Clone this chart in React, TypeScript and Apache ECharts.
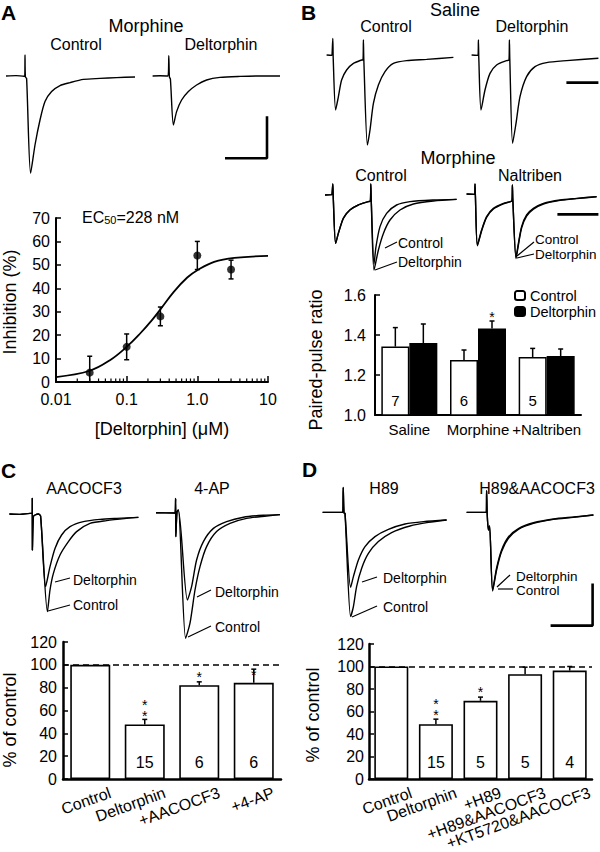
import React, { useEffect, useRef } from 'react';
import * as echarts from 'echarts';

const FONT = "'Liberation Sans', Arial, Helvetica, sans-serif";
const K = '#000';

// ---------- Panel A : dose response ----------
const doseConc = [0.03, 0.1, 0.3, 1, 3];
const doseInhibition = [4, 15, 28, 54, 48];
const doseSem = [7, 5.5, 4, 6, 4];
const fitConc = [0.01, 0.03, 0.058, 0.1, 0.155, 0.228, 0.3, 0.464, 0.72, 1, 1.73, 3.34, 10];
const fitInhibition = [2.1, 4.8, 9.3, 15, 20.7, 26.4, 31, 38.5, 44.6, 47.7, 51.3, 53, 53.8];
const logTickLabels = ['0.01', '0.1', '1.0', '10'];
const logMinorTicks = [0.02, 0.03, 0.04, 0.05, 0.06, 0.07, 0.08, 0.09, 0.2, 0.3, 0.4, 0.5, 0.6, 0.7, 0.8, 0.9, 2, 3, 4, 5, 6, 7, 8, 9];

// ---------- Panel B : paired-pulse ratio ----------
const ppCategories = ['Saline', 'Morphine', '+Naltriben'];
const ppControl = [1.342, 1.275, 1.29];
const ppControlSem = [0.095, 0.05, 0.043];
const ppDeltorphin = [1.36, 1.433, 1.295];
const ppDeltorphinSem = [0.095, 0.037, 0.035];
const ppN = ['7', '6', '5'];
const ppDeltStars = ['', '*', ''];

// ---------- Panel C ----------
const cCategories = ['Control', 'Deltorphin', '+AACOCF3', '+4-AP'];
const cValues = [100, 47.8, 82.2, 84.2];
const cSem = [0, 4.4, 2.9, 12];
const cN = ['', '15', '6', '6'];
const cStars = ['', '**', '*', '*'];

// ---------- Panel D ----------
const dCategories = ['Control', 'Deltorphin', '+H89', '+H89&AACOCF3', '+KT5720&AACOCF3'];
const dValues = [100, 48.7, 69.5, 93.2, 96.4];
const dSem = [0, 4.5, 3.3, 6.2, 3.6];
const dN = ['', '15', '5', '5', '4'];
const dStars = ['', '**', '*', '', ''];

// ---------- Traces (time ms, current pA) ----------
const traceAControl = [[3, 0], [8, 2], [12, -1], [12.4, 0], [12.5, 105], [12.7, -5], [13.3, -12], [15.3, -486], [17.5, -345], [20, -220], [22.5, -128], [25.8, -78], [30, -48], [35, -33], [41.7, -17], [50, -12], [58.3, -8], [67.5, -5]];
const traceADelt = [[76.3, 0], [80, 1], [84, 0], [84.4, 101], [84.7, -5], [85.2, -15], [86.7, -245], [88.3, -178], [90.8, -120], [94.2, -78], [98.3, -45], [103.3, -20], [110, -7], [120, -2], [130, 0], [140, 0]];
const scaleBarA = { x: 133.5, y: -411, ms: 21, pA: 210 };

const salineControl = [[13.3, 10], [16, 8], [16.3, 9], [16.4, 93], [16.6, -5], [17.8, -265], [19.2, -198], [20.8, -115], [23.3, -65], [26.7, -32], [30.8, -15], [31.5, -14], [31.7, 85], [31.9, -10], [33.7, -440], [35, -365], [36.7, -232], [39.2, -140], [42.5, -73], [46.7, -32], [53.3, -18], [63.3, -12], [76.7, -2]];
const salineDelt = [[85.8, 10], [89, 8], [89.2, 85], [89.4, -5], [90.5, -265], [92.5, -165], [95, -82], [98.3, -40], [103.3, -18], [104.5, -15], [104.7, 85], [104.9, -10], [106.3, -432], [108, -332], [110, -198], [113.3, -98], [117.5, -48], [123.3, -28], [133.3, -18], [149.2, -6]];
const scaleBarSaline = { x: 149.2, y: -128, ms: 16 };

const morphControl = [[12.5, 0], [16, 2], [16.3, 2], [16.4, 55], [16.6, -5], [17.8, -242], [19.2, -192], [21.7, -117], [25, -75], [29.2, -50], [34.2, -33], [35.2, -30], [35.4, 55], [35.6, -20], [37, -345], [38, -258], [40, -158], [43.3, -92], [48.3, -50], [55, -33], [66.7, -25], [78.3, -22]];
const morphDelt = [[12.5, 0], [16, 2], [16.3, 2], [16.4, 55], [16.6, -5], [17.8, -242], [19.2, -190], [21.7, -115], [25, -74], [29.2, -49], [34.2, -33], [35.2, -30], [35.4, 55], [35.6, -20], [37, -375], [39.2, -275], [41.7, -192], [45, -125], [50, -75], [56.7, -45], [66.7, -30], [78.3, -22]];
const naltControl = [[83.3, 5], [87.3, 3], [87.5, 55], [87.7, -5], [88.7, -250], [90.8, -175], [93.3, -108], [96.7, -67], [101.7, -42], [105, -33], [106, -30], [106.2, 50], [106.4, -20], [108, -312], [109.2, -242], [110.8, -158], [113.3, -100], [116.7, -67], [121.7, -42], [130, -25], [138.3, -17], [148.3, -8]];
const naltDelt = [[83.3, 5], [87.3, 3], [87.5, 55], [87.7, -5], [88.7, -254], [90.8, -180], [93.3, -112], [96.7, -70], [101.7, -44], [105, -34], [106, -30], [106.2, 50], [106.4, -20], [108, -318], [109.2, -250], [110.8, -165], [113.3, -106], [116.7, -71], [121.7, -45], [130, -27], [138.3, -18], [148.3, -9]];
const scaleBarNalt = { x: 149.2, y: -97, ms: 20.5 };

const aacControl = [[4.7, 0], [10, -2], [15, 3], [16.1, 3], [16.15, 78], [16.2, -180], [16.7, -13], [17.5, -5], [19.2, 0], [20.3, -10], [23.7, -488], [25, -380], [26.7, -297], [30, -205], [34.2, -138], [38.3, -88], [45, -47], [53.3, -33], [63.3, -22], [69.2, -17]];
const aacDelt = [[4.7, 0], [10, -2], [15, 3], [16.1, 3], [16.15, 78], [16.2, -180], [16.7, -13], [17.5, -5], [19.2, 0], [20.3, -10], [22.8, -363], [25, -263], [27.5, -172], [30.8, -105], [35, -63], [41.7, -38], [50, -27], [58.3, -22], [69.2, -17]];
const apControl = [[78, 6], [87.5, 5], [87.8, 78], [87.9, -113], [88.5, 10], [89.2, 20], [92.8, -621], [95, -546], [97.5, -380], [100, -263], [103.3, -163], [108.3, -88], [115, -47], [123.3, -22], [133.3, -10], [140, -3]];
const apDelt = [[78, 6], [87.5, 5], [87.8, 78], [87.9, -113], [88.5, 10], [89.2, 20], [93.7, -430], [95.8, -363], [98.3, -230], [101.7, -138], [106.7, -72], [113.3, -38], [121.7, -16], [131.7, -6], [140, -3]];
const h89Control = [[161.3, 8], [170.8, 8], [171.4, 8], [171.6, 133], [172, 5], [172.5, 3], [175.3, -513], [176.7, -463], [178.3, -363], [180.8, -272], [184.2, -197], [189.2, -138], [195.8, -93], [205, -60], [214.2, -42], [223.3, -30]];
const h89Delt = [[161.3, 8], [170.8, 8], [171.4, 8], [171.6, 133], [172, 5], [172.5, 3], [175.3, -367], [176.7, -313], [179.2, -230], [182.5, -163], [187.5, -113], [194.2, -77], [202.5, -50], [211.7, -38], [223.3, -30]];
const h89aacControl = [[233.3, 8], [242.5, 8], [243.2, 10], [243.3, 116], [243.6, 0], [244.2, -80], [244.8, -60], [246.3, -385], [248.3, -280], [250.8, -188], [254.2, -122], [259.2, -77], [266.7, -47], [276.7, -27], [286.7, -17], [296.7, -5]];
const h89aacDelt = [[233.3, 8], [242.5, 8], [243.2, 10], [243.3, 116], [243.6, 0], [244.2, -80], [244.8, -60], [246.3, -380], [248.3, -270], [250.8, -180], [254.2, -115], [259.2, -73], [266.7, -44], [276.7, -25], [286.7, -15], [296.7, -5]];
const scaleBarD = { x: 296.3, y: -558, ms: 21, pA: 210 };

// ---------- helpers ----------
const txt = (text: string, x: number, y: number, size: number, opts: any = {}) => ({
  type: 'text',
  x,
  y,
  rotation: opts.rotation || 0,
  silent: true,
  style: {
    text,
    fill: K,
    fontSize: size,
    fontFamily: FONT,
    fontWeight: opts.bold ? 'bold' : 'normal',
    align: opts.align || 'center',
    textAlign: opts.align || 'center',
    verticalAlign: 'middle',
    textVerticalAlign: 'middle',
  },
});
const seg = (x1: number, y1: number, x2: number, y2: number) => ({
  type: 'line',
  silent: true,
  shape: { x1, y1, x2, y2 },
  style: { stroke: K, lineWidth: 1.2 },
});

const traceSeries = (data: number[][], idx: number) => ({
  type: 'line',
  xAxisIndex: idx,
  yAxisIndex: idx,
  data,
  showSymbol: false,
  symbol: 'none',
  smooth: 0.25,
  silent: true,
  lineStyle: { color: K, width: 1.4 },
});

const scaleSeries = (bar: any, idx: number) => ({
  type: 'line',
  xAxisIndex: idx,
  yAxisIndex: idx,
  showSymbol: false,
  symbol: 'none',
  silent: true,
  lineStyle: { color: K, width: 2.6 },
  data: bar.pA
    ? [[bar.x - bar.ms, bar.y], [bar.x, bar.y], [bar.x, bar.y + bar.pA]]
    : [[bar.x - bar.ms, bar.y], [bar.x, bar.y]],
});

const STAR_STEP = 11.5;
const errorSeries = (values: number[], sems: number[], stars: string[], idx: number, offset: number, starGap: number) => ({
  type: 'custom',
  xAxisIndex: idx,
  yAxisIndex: idx,
  silent: true,
  z: 5,
  data: values.map((v, i) => [i, v, sems[i]]),
  renderItem: (params: any, api: any) => {
    const i = api.value(0);
    const v = api.value(1);
    const e = api.value(2);
    const base = api.coord([i, v]);
    const top = api.coord([i, v + e]);
    const x = base[0] + offset;
    const children: any[] = [];
    if (e > 0) {
      children.push({ type: 'line', shape: { x1: x, y1: base[1], x2: x, y2: top[1] }, style: { stroke: K, lineWidth: 1.5 } });
      children.push({ type: 'line', shape: { x1: x - 2.5, y1: top[1], x2: x + 2.5, y2: top[1] }, style: { stroke: K, lineWidth: 1.5 } });
    }
    const s = stars[params.dataIndex] || '';
    if (s.length) {
      children.push({
        type: 'text',
        x,
        y: base[1] - starGap - ((s.length - 1) * STAR_STEP) / 2 + 4,
        style: {
          text: s.split('').join('\n'),
          fill: K,
          fontSize: 14,
          lineHeight: STAR_STEP,
          fontFamily: FONT,
          align: 'center',
          verticalAlign: 'middle',
        },
      });
    }
    return { type: 'group', children };
  },
});

const nLabel = (arr: string[], size = 15, dist = 8) => ({
  show: true,
  position: 'insideBottom',
  distance: dist,
  formatter: (p: any) => arr[p.dataIndex],
  fontSize: size,
  fontFamily: FONT,
  color: K,
});

const rotatedCategoryLabels = (cats: string[], idx: number) => ({
  type: 'scatter',
  xAxisIndex: idx,
  yAxisIndex: idx,
  symbol: 'circle',
  symbolSize: 0,
  silent: true,
  clip: false,
  itemStyle: { color: K, opacity: 1 },
  data: cats.map((c) => ({ name: c, value: [c, 0] })),
  label: {
    show: true,
    formatter: '{b}',
    position: [20, 13],
    align: 'right',
    verticalAlign: 'middle',
    rotate: 20,
    fontSize: 16,
    fontFamily: FONT,
    color: K,
    opacity: 1,
    textBorderWidth: 0,
  },
});

const axisLine = (w = 2) => ({ show: true, onZero: false, lineStyle: { color: K, width: w } });
const tickIn = (len = 5) => ({ show: true, inside: true, length: len, lineStyle: { color: K, width: 1.5 } });
const lab = (margin: number, extra: any = {}) => ({ color: K, fontSize: 16, fontFamily: FONT, margin, ...extra });

const hiddenX = (idx: number, max: number) => ({ type: 'value', gridIndex: idx, min: 0, max, show: false });
const hiddenY = (idx: number, min: number, max: number) => ({ type: 'value', gridIndex: idx, min, max, show: false });

const gridBase = { containLabel: false, outerBoundsMode: 'none' };

const option: any = {
  animation: false,
  backgroundColor: '#fff',
  textStyle: { fontFamily: FONT, color: K },
  grid: [
    { ...gridBase, left: 56, top: 218, width: 212, height: 164 }, // 0 A dose
    { ...gridBase, left: 375, top: 295, width: 206, height: 120 }, // 1 B bars
    { ...gridBase, left: 63, top: 642, width: 218, height: 137 }, // 2 C bars
    { ...gridBase, left: 369, top: 644, width: 223, height: 135 }, // 3 D bars
    { ...gridBase, left: 0, top: 45, width: 300, height: 135 }, // 4 A traces
    { ...gridBase, left: 300, top: 30, width: 300, height: 130 }, // 5 B saline
    { ...gridBase, left: 300, top: 180, width: 300, height: 100 }, // 6 B morphine
    { ...gridBase, left: 0, top: 480, width: 600, height: 170 }, // 7 C/D traces
  ],
  xAxis: [
    {
      type: 'log', logBase: 10, gridIndex: 0, min: 0.01, max: 10,
      axisLine: axisLine(2), axisTick: tickIn(6), splitLine: { show: false },
      axisLabel: lab(9, { formatter: (v: number) => logTickLabels[Math.round(Math.log10(v)) + 2] }),
      name: '[Deltorphin] (\u03bcM)', nameLocation: 'middle', nameGap: 38,
      nameTextStyle: { color: K, fontSize: 18, fontFamily: FONT },
    },
    { type: 'category', gridIndex: 1, data: ppCategories, axisLine: axisLine(2), axisTick: { show: false }, axisLabel: lab(7, { interval: 0, hideOverlap: false, fontSize: 15 }) },
    { type: 'category', gridIndex: 2, data: cCategories, axisLine: axisLine(2.5), axisTick: { show: false }, axisLabel: { show: false } },
    { type: 'category', gridIndex: 3, data: dCategories, axisLine: axisLine(2.5), axisTick: { show: false }, axisLabel: { show: false } },
    hiddenX(4, 150),
    hiddenX(5, 150),
    hiddenX(6, 150),
    hiddenX(7, 300),
  ],
  yAxis: [
    { type: 'value', gridIndex: 0, min: 0, max: 70, interval: 10, axisLine: axisLine(2), axisTick: tickIn(5), splitLine: { show: false }, axisLabel: lab(6) },
    { type: 'value', gridIndex: 1, min: 1.0, max: 1.6, interval: 0.2, axisLine: axisLine(2), axisTick: tickIn(5), splitLine: { show: false }, axisLabel: lab(9, { formatter: (v: number) => v.toFixed(1) }) },
    { type: 'value', gridIndex: 2, min: 0, max: 120, interval: 20, axisLine: axisLine(2.5), axisTick: tickIn(5), splitLine: { show: false }, axisLabel: lab(6) },
    { type: 'value', gridIndex: 3, min: 0, max: 120, interval: 20, axisLine: axisLine(2.5), axisTick: tickIn(5), splitLine: { show: false }, axisLabel: lab(5) },
    hiddenY(4, -520, 155),
    hiddenY(5, -515, 135),
    hiddenY(6, -425, 75),
    hiddenY(7, -680, 170),
  ],
  legend: {
    data: ['Control', 'Deltorphin'],
    left: 514,
    top: 288,
    orient: 'vertical',
    itemWidth: 10,
    itemHeight: 9,
    itemGap: 1,
    padding: 0,
    selectedMode: false,
    textStyle: { color: K, fontSize: 14.5, lineHeight: 14, fontFamily: FONT },
  },
  series: [
    // A dose-response
    {
      type: 'line', xAxisIndex: 0, yAxisIndex: 0, smooth: 0.4, showSymbol: false, symbol: 'none', silent: true,
      lineStyle: { color: K, width: 1.8 },
      data: fitConc.map((c, i) => [c, fitInhibition[i]]),
    },
    {
      type: 'custom', xAxisIndex: 0, yAxisIndex: 0, silent: true, z: 4,
      data: doseConc.map((c, i) => [c, doseInhibition[i], doseSem[i]]),
      renderItem: (_p: any, api: any) => {
        const x = api.value(0), y = api.value(1), e = api.value(2);
        const t = api.coord([x, y + e]);
        const b = api.coord([x, Math.max(0, y - e)]);
        return {
          type: 'group',
          children: [
            { type: 'line', shape: { x1: t[0], y1: t[1], x2: b[0], y2: b[1] }, style: { stroke: K, lineWidth: 1.5 } },
            { type: 'line', shape: { x1: t[0] - 2.5, y1: t[1], x2: t[0] + 2.5, y2: t[1] }, style: { stroke: K, lineWidth: 1.5 } },
            { type: 'line', shape: { x1: b[0] - 2.5, y1: b[1], x2: b[0] + 2.5, y2: b[1] }, style: { stroke: K, lineWidth: 1.5 } },
          ],
        };
      },
    },
    {
      type: 'scatter', xAxisIndex: 0, yAxisIndex: 0, symbolSize: 8, silent: true, z: 6,
      itemStyle: { color: K },
      data: doseConc.map((c, i) => [c, doseInhibition[i]]),
    },
    {
      type: 'custom', xAxisIndex: 0, yAxisIndex: 0, silent: true,
      data: logMinorTicks.map((v) => [v, 0]),
      renderItem: (_p: any, api: any) => {
        const p = api.coord([api.value(0), 0]);
        return { type: 'line', shape: { x1: p[0], y1: p[1], x2: p[0], y2: p[1] - 3.5 }, style: { stroke: K, lineWidth: 1.2 } };
      },
    },
    // B bars
    {
      name: 'Control', type: 'bar', xAxisIndex: 1, yAxisIndex: 1, data: ppControl, barWidth: 28, barGap: '0%',
      itemStyle: { color: '#fff', borderColor: K, borderWidth: 1.5 }, label: nLabel(ppN, 15, 8),
    },
    {
      name: 'Deltorphin', type: 'bar', xAxisIndex: 1, yAxisIndex: 1, data: ppDeltorphin, barWidth: 28, barGap: '0%',
      itemStyle: { color: K, borderColor: K, borderWidth: 1.5 },
    },
    errorSeries(ppControl, ppControlSem, ['', '', ''], 1, -14, 15),
    errorSeries(ppDeltorphin, ppDeltorphinSem, ppDeltStars, 1, 14, 15),
    // C bars
    {
      type: 'bar', xAxisIndex: 2, yAxisIndex: 2, data: cValues, barWidth: 40,
      itemStyle: { color: '#fff', borderColor: K, borderWidth: 1.6 }, label: nLabel(cN, 16, 9),
      markLine: { silent: true, symbol: 'none', label: { show: false }, lineStyle: { color: K, type: [6, 4], width: 1.6 }, data: [{ yAxis: 100 }] },
    },
    errorSeries(cValues, cSem, cStars, 2, 0, 12),
    rotatedCategoryLabels(cCategories, 2),
    // D bars
    {
      type: 'bar', xAxisIndex: 3, yAxisIndex: 3, data: dValues, barWidth: 34,
      itemStyle: { color: '#fff', borderColor: K, borderWidth: 1.6 }, label: nLabel(dN, 16, 9),
      markLine: { silent: true, symbol: 'none', label: { show: false }, lineStyle: { color: K, type: [6, 4], width: 1.6 }, data: [{ yAxis: 100 }] },
    },
    errorSeries(dValues, dSem, dStars, 3, 0, 13),
    rotatedCategoryLabels(dCategories, 3),
    // traces
    traceSeries(traceAControl, 4),
    traceSeries(traceADelt, 4),
    scaleSeries(scaleBarA, 4),
    traceSeries(salineControl, 5),
    traceSeries(salineDelt, 5),
    scaleSeries(scaleBarSaline, 5),
    traceSeries(morphControl, 6),
    traceSeries(morphDelt, 6),
    traceSeries(naltControl, 6),
    traceSeries(naltDelt, 6),
    scaleSeries(scaleBarNalt, 6),
    traceSeries(aacControl, 7),
    traceSeries(aacDelt, 7),
    traceSeries(apControl, 7),
    traceSeries(apDelt, 7),
    traceSeries(h89Control, 7),
    traceSeries(h89Delt, 7),
    traceSeries(h89aacControl, 7),
    traceSeries(h89aacDelt, 7),
    scaleSeries(scaleBarD, 7),
  ],
  graphic: [
    // Panel A
    txt('A', 1, 12, 21, { bold: true, align: 'left' }),
    txt('Morphine', 146, 26, 18),
    txt('Control', 76, 44, 16),
    txt('Deltorphin', 221, 44, 16),
    {
      type: 'text', x: 82, y: 217, silent: true,
      style: {
        text: '{a|EC}{b|50}{a|=228 nM}', fill: K, fontFamily: FONT, fontSize: 16, align: 'left', verticalAlign: 'middle',
        rich: { a: { fontSize: 16, fontFamily: FONT, fill: K, lineHeight: 18 }, b: { fontSize: 11, fontFamily: FONT, fill: K, lineHeight: 18, padding: [6, 0, 0, 0] } },
      },
    },
    txt('Inhibition (%)', 10, 302, 18, { rotation: Math.PI / 2 }),
    // Panel B
    txt('B', 301, 12, 21, { bold: true, align: 'left' }),
    txt('Saline', 455, 10, 18),
    txt('Control', 386, 26, 16),
    txt('Deltorphin', 532, 26, 16),
    txt('Morphine', 458, 158, 18),
    txt('Control', 381, 175, 16),
    txt('Naltriben', 530, 175, 16),
    txt('Control', 398, 243, 14, { align: 'left' }),
    txt('Deltorphin', 398, 262, 14, { align: 'left' }),
    seg(385, 248, 397, 242),
    seg(375, 270, 397, 262),
    txt('Control', 535, 239, 13.5, { align: 'left' }),
    txt('Deltorphin', 535, 254, 13.5, { align: 'left' }),
    seg(517, 256, 534, 242),
    seg(517, 258, 534, 254),
    txt('Paired-pulse ratio', 316, 360, 18, { rotation: Math.PI / 2 }),
    // Panel C
    txt('C', 1, 470, 21, { bold: true, align: 'left' }),
    txt('AACOCF3', 84, 488, 16),
    txt('4-AP', 212, 488, 16),
    txt('Deltorphin', 73, 580, 14, { align: 'left' }),
    txt('Control', 73, 605, 14, { align: 'left' }),
    seg(55, 582, 70, 578),
    seg(48, 611, 70, 605),
    txt('Deltorphin', 215, 592, 14, { align: 'left' }),
    txt('Control', 215, 627, 14, { align: 'left' }),
    seg(197, 597, 211, 590),
    seg(188, 637, 211, 626),
    txt('% of control', 10, 720, 18, { rotation: Math.PI / 2 }),
    // Panel D
    txt('D', 302, 469, 21, { bold: true, align: 'left' }),
    txt('H89', 384, 488, 16),
    txt('H89&AACOCF3', 537, 488, 16),
    txt('Deltorphin', 383, 578, 14, { align: 'left' }),
    txt('Control', 383, 607, 14, { align: 'left' }),
    seg(362, 582, 377, 577),
    seg(352, 617, 377, 606),
    txt('Deltorphin', 516, 576, 13.5, { align: 'left' }),
    txt('Control', 516, 590, 13.5, { align: 'left' }),
    seg(497, 587, 510, 575),
    seg(498, 589, 513, 589),
    txt('% of control', 313, 715, 18, { rotation: Math.PI / 2 }),
  ],
};

export default function App() {
  const ref = useRef<HTMLDivElement>(null);
  useEffect(() => {
    if (!ref.current) return;
    const chart = echarts.init(ref.current, null, { renderer: 'svg', width: 600, height: 852 });
    chart.setOption(option);
    return () => chart.dispose();
  }, []);
  return (
    <div
      ref={ref}
      style={{ position: 'absolute', left: 0, top: 0, width: 600, height: 852, background: '#fff' }}
    />
  );
}
